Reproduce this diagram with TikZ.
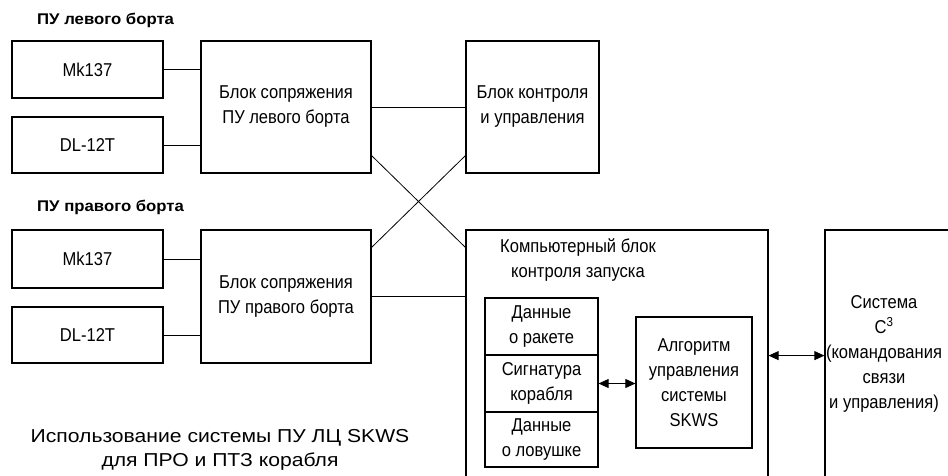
\documentclass[tikz,border=0pt]{standalone}
\usepackage{fontspec}
\setmainfont{Liberation Sans}
\newfontfamily\narrowfont[FakeStretch=0.89]{Liberation Sans}
\newfontfamily\headfont[FakeStretch=1.08]{Liberation Sans}
\newfontfamily\widefont[FakeStretch=1.13]{Liberation Sans}
\usetikzlibrary{arrows.meta,calc}
\begin{document}
\begin{tikzpicture}[x=1pt,y=-1pt,
  box/.style={draw,line width=1.2pt,font=\narrowfont\fontsize{18.6}{25}\selectfont,align=center,inner sep=0pt},
  txt/.style={font=\narrowfont\fontsize{18.6}{25}\selectfont,align=center,inner sep=0pt},
  head/.style={font=\headfont\bfseries\fontsize{15.5}{20}\selectfont,inner sep=0pt,anchor=west},
  captext/.style={font=\widefont\fontsize{18.7}{24}\selectfont,align=center,inner sep=0pt},
  link/.style={line width=0.8pt},
  arr/.style={line width=0.8pt,{Triangle[length=10pt,width=9pt]}-{Triangle[length=10pt,width=9pt]}}
]
\useasboundingbox[fill=white] (0,0) rectangle (948,475);
\clip (0,0) rectangle (948,475);

% labels
\node[head] (hl) at (37,20) {ПУ левого борта};
\node[head] (hr) at (37,207) {ПУ правого борта};

% left side
\node[box,minimum width=151pt,minimum height=57pt] (mk1) at (87.5,69.5) {Mk137};
\node[box,minimum width=151pt,minimum height=56pt] (dl1) at (87.5,145) {DL-12T};
\node[box,minimum width=170pt,minimum height=132pt] (blk1) at (286,107) {Блок сопряжения\\ПУ левого борта};
\node[box,minimum width=133pt,minimum height=132pt] (ctrl) at (532.5,107) {Блок контроля\\и управления};

% right side
\node[box,minimum width=151pt,minimum height=58pt] (mk2) at (87.5,259) {Mk137};
\node[box,minimum width=151pt,minimum height=56pt] (dl2) at (87.5,335) {DL-12T};
\node[box,minimum width=170pt,minimum height=133pt] (blk2) at (286,296.5) {Блок сопряжения\\ПУ правого борта};

% computer block
\node[box,minimum width=302pt,minimum height=260pt] (comp) at (617,360) {};
\node[txt] (compt) at (578,260.5) {Компьютерный блок\\контроля запуска};
\node[box,minimum width=113pt,minimum height=57pt] (d1) at (541.5,326.5) {Данные\\о ракете};
\node[box,minimum width=113pt,minimum height=57pt] (d2) at (541.5,383.5) {Сигнатура\\корабля};
\node[box,minimum width=113pt,minimum height=55pt] (d3) at (541.5,439.5) {Данные\\о ловушке};
\node[box,minimum width=116pt,minimum height=131pt] (alg) at (694,382.5) {Алгоритм\\управления\\системы\\SKWS};

% system C3
\node[box,minimum width=175pt,minimum height=260pt] (sys) at (912.5,360) {};
\node[txt] (syst) at (884,353.5) {Система\\C\textsuperscript{3}\\(командования\\связи\\и управления)};

% caption
\node[captext] (caption) at (220,450) {Использование системы ПУ ЛЦ SKWS\\для ПРО и ПТЗ корабля};

% connectors
\draw[link] (mk1.east) -- (mk1.east -| blk1.west);
\draw[link] (dl1.east) -- (dl1.east -| blk1.west);
\draw[link] (mk2.east) -- (mk2.east -| blk2.west);
\draw[link] (dl2.east) -- (dl2.east -| blk2.west);
\draw[link] (blk1.east) -- (ctrl.west);
\draw[link] (blk2.east) -- (blk2.east -| comp.west);
\draw[link] ([yshift=18pt]blk1.south east) -- ([yshift=-18pt]comp.north west);
\draw[link] ([yshift=-18pt]blk2.north east) -- ([yshift=18pt]ctrl.south west);
\draw[arr] (d2.east) -- (d2.east -| alg.west);
\draw[arr] (d1.south -| comp.east) -- (d1.south -| sys.west);
\end{tikzpicture}
\end{document}
